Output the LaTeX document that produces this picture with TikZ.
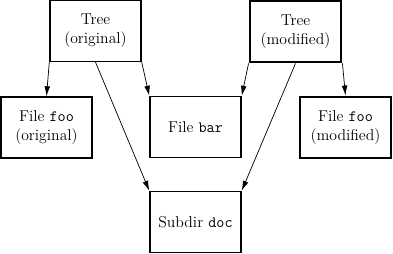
\documentclass[tikz,border=0pt]{standalone}
\usepackage{tikz}
\usetikzlibrary{arrows.meta}
\tikzset{
  box/.style   = {draw, line width=1pt, minimum width=63.7pt, minimum height=42.7pt,
                  inner sep=2pt, align=center, font=\fontsize{11}{13.5}\selectfont},
  thickbox/.style = {box, line width=2pt},
  e/.style     = {-{Latex[length=7pt,width=4pt]}, line width=0.5pt}
}

\begin{document}
\begin{tikzpicture}[x=0.7pt,y=0.7pt]
  \useasboundingbox (0,0) rectangle (393,254);
  % ---- top row: the two trees ----
  \node[box] (treeo) at (95.5,223) {Tree\\(original)};
  \node[thickbox] (treem) at (295.5,222.5) {Tree\\(modified)};

  % ---- middle row: files ----
  \node[box] (fooo) at (46.5,126.5) {File \texttt{foo}\\(original)};
  \node[box] (bar) at (195.5,127) {File \texttt{bar}};
  \node[thickbox] (foom) at (345.5,126.5) {File \texttt{foo}\\(modified)};

  % ---- bottom: shared subdir ----
  \node[box] (doc) at (195.5,32) {Subdir \texttt{doc}};

  \draw[e] (treeo.south west) -- (fooo.north);
  \draw[e] (treeo.south east) -- (bar.north west);
  \draw[e] (treeo.south) -- (doc.north west);
  \draw[e] (treem.south west) -- (bar.north east);
  \draw[e] (treem.south) -- (doc.north east);
  \draw[e] (treem.south east) -- (foom.north);
\end{tikzpicture}
\end{document}
